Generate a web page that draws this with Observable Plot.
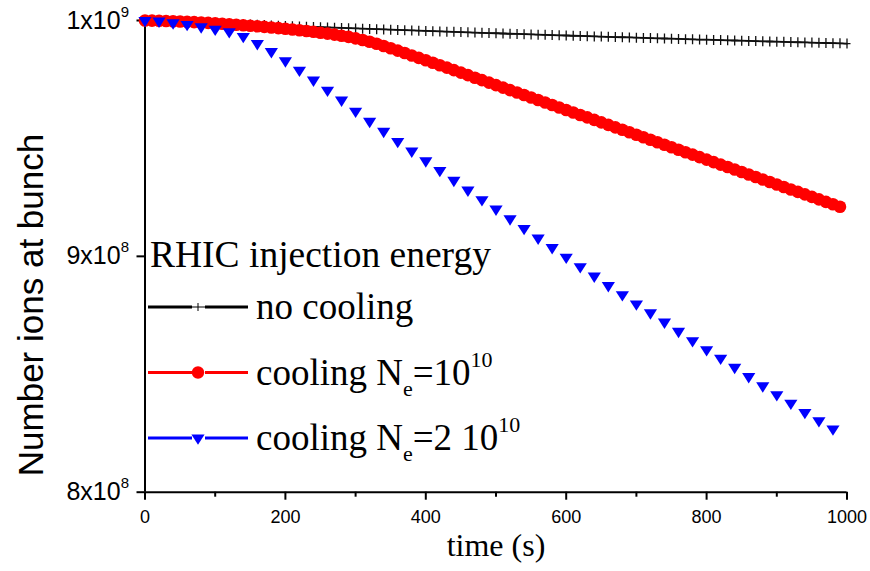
<!DOCTYPE html>
<html>
<head>
<meta charset="utf-8">
<script src="https://cdn.jsdelivr.net/npm/d3@7"></script>
<script src="https://cdn.jsdelivr.net/npm/@observablehq/plot@0.6"></script>
<style>
  html, body { margin: 0; padding: 0; background: #fff; }
  #chart svg { display: block; }
</style>
</head>
<body>
<div id="chart"></div>
<script>
// ---- Data (values in units of 10^8 ions) ----
const seriesNames = ["no cooling", "cooling Ne=10^10", "cooling Ne=2 10^10"];

const tNoCooling = [0,10,20,30,40,50,60,70,80,90,100,110,120,130,140,150,160,170,180,190,
  200,210,220,230,240,250,260,270,280,290,300,310,320,330,340,350,360,370,380,390,
  400,410,420,430,440,450,460,470,480,490,500,510,520,530,540,550,560,570,580,590,
  600,610,620,630,640,650,660,670,680,690,700,710,720,730,740,750,760,770,780,790,
  800,810,820,830,840,850,860,870,880,890,900,910,920,930,940,950,960,970,980,990,1000];
const vNoCooling = [10.0000, 9.9988, 9.9976, 9.9965, 9.9953, 9.9941, 9.9929, 9.9918, 9.9906, 9.9895,
  9.9883, 9.9872, 9.9860, 9.9849, 9.9838, 9.9826, 9.9815, 9.9804, 9.9793, 9.9782,
  9.9771, 9.9760, 9.9749, 9.9738, 9.9727, 9.9716, 9.9705, 9.9694, 9.9684, 9.9673,
  9.9662, 9.9652, 9.9641, 9.9631, 9.9620, 9.9610, 9.9599, 9.9589, 9.9579, 9.9569,
  9.9558, 9.9548, 9.9538, 9.9528, 9.9518, 9.9508, 9.9498, 9.9488, 9.9478, 9.9468,
  9.9459, 9.9449, 9.9439, 9.9429, 9.9420, 9.9410, 9.9401, 9.9391, 9.9382, 9.9372,
  9.9363, 9.9354, 9.9344, 9.9335, 9.9326, 9.9317, 9.9308, 9.9299, 9.9290, 9.9281,
  9.9272, 9.9263, 9.9254, 9.9245, 9.9236, 9.9228, 9.9219, 9.9210, 9.9202, 9.9193,
  9.9185, 9.9176, 9.9168, 9.9159, 9.9151, 9.9143, 9.9135, 9.9126, 9.9118, 9.9110,
  9.9102, 9.9094, 9.9086, 9.9078, 9.9070, 9.9062, 9.9054, 9.9047, 9.9039, 9.9031,
  9.9023];

const tCool1 = [0,10,20,30,40,50,60,70,80,90,100,110,120,130,140,150,160,170,180,190,
  200,210,220,230,240,250,260,270,280,290,300,310,320,330,340,350,360,370,380,390,
  400,410,420,430,440,450,460,470,480,490,500,510,520,530,540,550,560,570,580,590,
  600,610,620,630,640,650,660,670,680,690,700,710,720,730,740,750,760,770,780,790,
  800,810,820,830,840,850,860,870,880,890,900,910,920,930,940,950,960,970,980,990];
const vCool1 = [10.000, 9.9996, 9.9987, 9.9979, 9.9970, 9.9958, 9.9945, 9.9932, 9.9915, 9.9898,
  9.9881, 9.9864, 9.9843, 9.9822, 9.9800, 9.9779, 9.9754, 9.9728, 9.9703, 9.9677,
  9.9648, 9.9618, 9.9588, 9.9554, 9.9520, 9.9482, 9.9444, 9.9401, 9.9355, 9.9304,
  9.9244, 9.9176, 9.9100, 9.9015, 9.8921, 9.8824, 9.8722, 9.8620, 9.8518, 9.8416,
  9.8314, 9.8209, 9.8102, 9.8000, 9.7894, 9.7788, 9.7682, 9.7575, 9.7473, 9.7367,
  9.7261, 9.7155, 9.7049, 9.6947, 9.6841, 9.6735, 9.6628, 9.6522, 9.6420, 9.6314,
  9.6208, 9.6102, 9.5996, 9.5894, 9.5788, 9.5682, 9.5575, 9.5469, 9.5367, 9.5261,
  9.5155, 9.5049, 9.4943, 9.4841, 9.4735, 9.4628, 9.4522, 9.4416, 9.4314, 9.4208,
  9.4102, 9.3996, 9.3890, 9.3788, 9.3682, 9.3575, 9.3469, 9.3363, 9.3261, 9.3155,
  9.3049, 9.2943, 9.2837, 9.2735, 9.2628, 9.2522, 9.2416, 9.2310, 9.2208, 9.2102];

const tCool2 = [0,20,40,60,80,100,120,140,160,180,200,220,240,260,280,300,320,340,360,380,
  400,420,440,460,480,500,520,540,560,580,600,620,640,660,680,700,720,740,760,780,
  800,820,840,860,880,900,920,940,960,980];
const vCool2 = [10.000, 9.997, 9.990, 9.983, 9.973, 9.963, 9.952, 9.932, 9.902, 9.868,
  9.829, 9.789, 9.747, 9.704, 9.662, 9.615, 9.572, 9.530, 9.487, 9.446,
  9.405, 9.364, 9.322, 9.281, 9.240, 9.200, 9.159, 9.118, 9.077, 9.037,
  8.996, 8.956, 8.916, 8.876, 8.837, 8.798, 8.760, 8.721, 8.682, 8.642,
  8.604, 8.568, 8.529, 8.490, 8.451, 8.413, 8.377, 8.338, 8.303, 8.268];

const xTicks = [0, 200, 400, 600, 800, 1000];
const xMinorTicks = [100, 300, 500, 700, 900];
const yTicks = [8, 9, 10];
const yTickMantissa = ["8x10", "9x10", "1x10"];
const yTickExponent = ["8", "8", "9"];

const xLabel = "time (s)";
const yLabel = "Number ions at bunch";
const legendTitle = "RHIC injection energy";

// ---- Build tables ----
const noCooling = tNoCooling.map((t, i) => ({t, v: vNoCooling[i]}));
const cool1 = tCool1.map((t, i) => ({t, v: vCool1[i]}));
const cool2 = tCool2.map((t, i) => ({t, v: vCool2[i]}));

// custom symbols
const crossSym = {draw(ctx) { ctx.moveTo(0, -5); ctx.lineTo(0, 5); ctx.moveTo(-3.5, 0); ctx.lineTo(3.5, 0); }};
const triDown = {draw(ctx) { ctx.moveTo(-6.6, -3.6); ctx.lineTo(6.6, -3.6); ctx.lineTo(0, 6.8); ctx.closePath(); }};

const SANS = "'Liberation Sans', Arial, sans-serif";
const SERIF = "'Liberation Serif', 'Times New Roman', serif";

const chart = Plot.plot({
  width: 870,
  height: 571,
  marginLeft: 144.5,
  marginRight: 23.5,
  marginTop: 20,
  marginBottom: 79.3,
  style: {fontFamily: SANS, background: "#fff", color: "#000"},
  x: {domain: [0, 1000]},
  y: {domain: [8, 10]},
  marks: [
    Plot.axisX(xTicks, {tickSize: 8, tickPadding: 10, fontSize: 18, strokeWidth: 2, label: null, tickFormat: d => String(d)}),
    Plot.axisX(xMinorTicks, {tickSize: 5, strokeWidth: 2, label: null, tickFormat: () => ""}),
    Plot.axisY(yTicks, {tickSize: 8, tickPadding: 8, fontSize: 25, strokeWidth: 2, label: null,
      tickFormat: d => yTickMantissa[yTicks.indexOf(d)]}),
    Plot.ruleY([8], {stroke: "#000", strokeWidth: 2}),
    Plot.ruleX([0], {stroke: "#000", strokeWidth: 2}),
    Plot.line(noCooling, {x: "t", y: "v", stroke: "#000", strokeWidth: 1.8}),
    Plot.dot(noCooling, {x: "t", y: "v", symbol: crossSym, stroke: "#111", strokeWidth: 1.3, fill: "none"}),
    Plot.line(cool1, {x: "t", y: "v", stroke: "#ff0000", strokeWidth: 2}),
    Plot.dot(cool1, {x: "t", y: "v", symbol: "circle", r: 6.3, fill: "#ff0000", stroke: "none"}),
    Plot.dot(cool2, {x: "t", y: "v", symbol: triDown, fill: "#0000ff", stroke: "none"})
  ]
});

document.getElementById("chart").appendChild(chart);

const svg = d3.select(chart);

// tick label fonts
svg.selectAll('g[aria-label="x-axis tick label"]').attr("font-size", 18).selectAll("text").attr("font-size", 18);
svg.selectAll('g[aria-label="y-axis tick label"]').attr("font-size", 25).selectAll("text").attr("font-size", 25);

// superscripts on y tick labels
svg.selectAll('g[aria-label="y-axis tick label"] text').each(function() {
  const el = d3.select(this);
  const txt = el.text();
  const idx = yTickMantissa.indexOf(txt);
  if (idx >= 0) {
    el.append("tspan").attr("dy", -12).attr("font-size", 15).text(yTickExponent[idx]);
  }
});

// axis titles
svg.append("text")
  .attr("transform", "translate(43,305) rotate(-90)")
  .attr("text-anchor", "middle")
  .attr("font-family", SANS)
  .attr("font-size", 35)
  .attr("fill", "#000")
  .text(yLabel);

svg.append("text")
  .attr("x", 496)
  .attr("y", 556)
  .attr("text-anchor", "middle")
  .attr("font-family", SERIF)
  .attr("font-size", 32)
  .attr("fill", "#000")
  .text(xLabel);

// legend
const lg = svg.append("g").attr("font-family", SERIF).attr("fill", "#000").attr("text-anchor", "start");
lg.append("text").attr("x", 150).attr("y", 267).attr("font-size", 37.5).attr("text-anchor", "start").text(legendTitle);

const rows = [
  {y: 307, ty: 319, color: "#000", kind: "cross"},
  {y: 372.5, ty: 385, color: "#ff0000", kind: "circle"},
  {y: 438, ty: 450, color: "#0000ff", kind: "tri"}
];
rows.forEach((r, i) => {
  lg.append("line").attr("x1", 148).attr("x2", 192).attr("y1", r.y).attr("y2", r.y)
    .attr("stroke", r.color).attr("stroke-width", 3);
  lg.append("line").attr("x1", 205).attr("x2", 248).attr("y1", r.y).attr("y2", r.y)
    .attr("stroke", r.color).attr("stroke-width", 3);
  if (r.kind === "cross") {
    lg.append("path").attr("d", "M198," + (r.y - 4) + "V" + (r.y + 4) + "M192," + r.y + "H205")
      .attr("stroke", "#000").attr("stroke-width", 1).attr("fill", "none");
  } else if (r.kind === "circle") {
    lg.append("circle").attr("cx", 198).attr("cy", r.y).attr("r", 6.2).attr("fill", r.color);
  } else {
    lg.append("path").attr("d", `M${198-6.6},${r.y-3.6}L${198+6.6},${r.y-3.6}L198,${r.y+6.8}Z`).attr("fill", r.color);
  }
  const t = lg.append("text").attr("x", 256).attr("y", r.ty).attr("font-size", 37).attr("text-anchor", "start");
  if (i === 0) {
    t.text("no cooling");
  } else {
    t.append("tspan").text("cooling N");
    t.append("tspan").attr("font-size", 22).attr("dy", 11).text("e");
    t.append("tspan").attr("dy", -11).text(i === 1 ? "=10" : "=2 10");
    t.append("tspan").attr("font-size", 22).attr("dy", -18).text("10");
  }
});
</script>
</body>
</html>
